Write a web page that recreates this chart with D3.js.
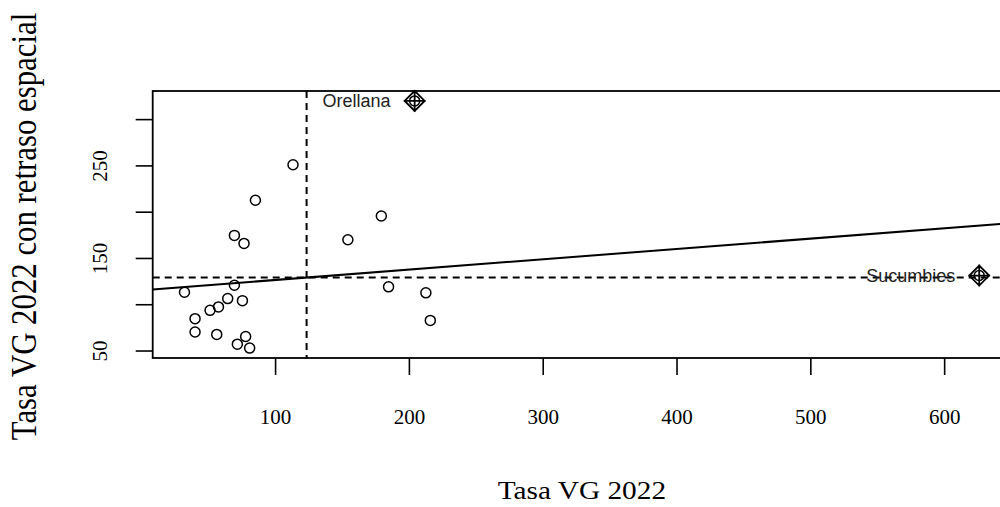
<!DOCTYPE html>
<html>
<head>
<meta charset="utf-8">
<script src="https://cdn.jsdelivr.net/npm/d3@7"></script>
<style>
    body { margin: 0; background: #fff; }
    svg { display: block; }
</style>
</head>
<body>
<div id="chart-div"></div>
<script>
// values
const tasaVG = [113.4, 85.3, 69.6, 76.8, 154.4, 179.4, 32.3, 69.6, 64.6, 75.6, 57.7, 51.4,
                40.2, 40.2, 56.4, 78.0, 71.8, 81.0, 184.8, 212.7, 216.0, 204.3, 626.2];
const retraso = [250.7, 212.4, 174.4, 165.7, 169.7, 195.3, 112.9, 120.5, 106.1, 103.9, 97.1, 93.4,
                 84.4, 70.0, 67.4, 65.2, 56.9, 52.6, 118.8, 112.3, 82.5, 319.7, 131.0];
const pointLabels = ['', '', '', '', '', '', '', '', '', '', '', '',
                     '', '', '', '', '', '', '', '', '', 'Orellana', 'Sucumbies'];

const xTicks = [100, 200, 300, 400, 500, 600];
const yTicks = [50, 100, 150, 200, 250, 300];
const yTickLabels = ['50', '', '150', '', '250', ''];

const xTitle = 'Tasa VG 2022';
const yTitle = 'Tasa VG 2022 con retraso espacial';

window.Plot = window.Plot || {};

Plot.init = function() {
    Plot.setup.initConsts();
    Plot.setup.initScales();
    Plot.setup.initSvg();

    Plot.core.drawAxes();
    Plot.core.drawRefLines();
    Plot.core.drawPoints();
    Plot.core.drawTitles();
};

Plot.setup = {
    initConsts: function() {
        Plot.width = 1000;
        Plot.height = 507;

        // plot box, right edge falls just outside the window
        Plot.left = 152.7;
        Plot.right = 1011;
        Plot.top = 91;
        Plot.bottom = 358;

        Plot.pad = 0.04; // R style axis padding
        Plot.tickLen = 17;
        Plot.pointR = 5;
    },

    initScales: function() {
        let xe = d3.extent(tasaVG), ye = d3.extent(retraso);
        let dx = (xe[1] - xe[0]) * Plot.pad, dy = (ye[1] - ye[0]) * Plot.pad;

        Plot.x = d3.scaleLinear()
                   .domain([xe[0] - dx, xe[1] + dx])
                   .range([Plot.left, Plot.right]);
        Plot.y = d3.scaleLinear()
                   .domain([ye[0] - dy, ye[1] + dy])
                   .range([Plot.bottom, Plot.top]);
    },

    initSvg: function() {
        Plot.svg = d3.select('#chart-div')
                     .append('svg')
                      .attr('width', Plot.width)
                      .attr('height', Plot.height);

        Plot.svg.append('clipPath').attr('id', 'box-clip')
                .append('rect')
                 .attr('x', Plot.left).attr('y', Plot.top)
                 .attr('width', Plot.right - Plot.left)
                 .attr('height', Plot.bottom - Plot.top);
    }
};

Plot.core = {
    drawAxes: function() {
        let xAxis = Plot.svg.append('g')
            .attr('transform', 'translate(0,' + Plot.bottom + ')')
            .call(d3.axisBottom(Plot.x).tickValues(xTicks).tickSize(Plot.tickLen).tickSizeOuter(0));
        xAxis.select('.domain').remove();
        xAxis.selectAll('line').attr('stroke', '#000').attr('stroke-width', 1.6);
        xAxis.selectAll('text')
             .attr('y', 66).attr('dy', 0)
             .attr('fill', '#000')
             .style('font-family', '"Liberation Serif", "Times New Roman", serif')
             .style('font-size', '21px');

        let yAxis = Plot.svg.append('g')
            .attr('transform', 'translate(' + Plot.left + ',0)')
            .call(d3.axisLeft(Plot.y).tickValues(yTicks).tickSize(Plot.tickLen).tickSizeOuter(0)
                    .tickFormat((d, i) => yTickLabels[i]));
        yAxis.select('.domain').remove();
        yAxis.selectAll('line').attr('stroke', '#000').attr('stroke-width', 1.6);
        yAxis.selectAll('text')
             .attr('x', 0).attr('y', 0).attr('dy', 0)
             .attr('transform', 'translate(-46,0) rotate(-90)')
             .attr('text-anchor', 'middle')
             .attr('fill', '#000')
             .style('font-family', '"Liberation Serif", "Times New Roman", serif')
             .style('font-size', '21px');

        // box
        Plot.svg.append('rect')
                .attr('x', Plot.left).attr('y', Plot.top)
                .attr('width', Plot.right - Plot.left)
                .attr('height', Plot.bottom - Plot.top)
                .attr('fill', 'none')
                .attr('stroke', '#000')
                .attr('stroke-width', 1.8);
    },

    drawRefLines: function() {
        let g = Plot.svg.append('g').attr('clip-path', 'url(#box-clip)');
        let mx = d3.mean(tasaVG), my = d3.mean(retraso);

        // least squares fit of lag on value
        let sxy = d3.sum(tasaVG, (v, i) => (v - mx) * (retraso[i] - my));
        let sxx = d3.sum(tasaVG, v => (v - mx) * (v - mx));
        let b = sxy / sxx, a = my - b * mx;
        let xd = Plot.x.domain();

        g.append('line')
         .attr('x1', Plot.x(xd[0])).attr('y1', Plot.y(a + b * xd[0]))
         .attr('x2', Plot.x(xd[1])).attr('y2', Plot.y(a + b * xd[1]))
         .attr('stroke', '#000').attr('stroke-width', 2);

        g.append('line')
         .attr('x1', Plot.x(mx)).attr('x2', Plot.x(mx))
         .attr('y1', Plot.top).attr('y2', Plot.bottom)
         .attr('stroke', '#000').attr('stroke-width', 2)
         .attr('stroke-dasharray', '7,5');

        g.append('line')
         .attr('x1', Plot.left).attr('x2', Plot.right)
         .attr('y1', Plot.y(my)).attr('y2', Plot.y(my))
         .attr('stroke', '#000').attr('stroke-width', 2)
         .attr('stroke-dasharray', '7,5');
    },

    drawPoints: function() {
        let idx = d3.range(tasaVG.length);

        Plot.svg.append('g').selectAll('circle')
            .data(idx).join('circle')
             .attr('cx', i => Plot.x(tasaVG[i]))
             .attr('cy', i => Plot.y(retraso[i]))
             .attr('r', Plot.pointR)
             .attr('fill', 'none')
             .attr('stroke', '#000')
             .attr('stroke-width', 1.5);

        // influential points: diamond with cross, and a label to the left
        let inf = idx.filter(i => pointLabels[i] !== '');
        let s = 10;
        let marks = Plot.svg.append('g').selectAll('g')
            .data(inf).join('g')
             .attr('transform', i => 'translate(' + Plot.x(tasaVG[i]) + ',' + Plot.y(retraso[i]) + ')');

        marks.append('path')
             .attr('d', 'M' + (-s) + ',0L0,' + (-s) + 'L' + s + ',0L0,' + s + 'Z'
                      + 'M' + (-s - 1) + ',0H' + (s + 1) + 'M0,' + (-s - 1) + 'V' + (s + 1))
             .attr('fill', 'none')
             .attr('stroke', '#000')
             .attr('stroke-width', 1.8);

        Plot.svg.append('g').selectAll('text')
            .data(inf).join('text')
             .attr('x', i => Plot.x(tasaVG[i]) - 24)
             .attr('y', i => Plot.y(retraso[i]))
             .attr('dy', '0.35em')
             .attr('text-anchor', 'end')
             .attr('fill', '#222')
             .style('font-family', '"Liberation Sans", Arial, sans-serif')
             .style('font-size', '18px')
             .text(i => pointLabels[i]);
    },

    drawTitles: function() {
        let serif = '"Liberation Serif", "Times New Roman", serif';

        Plot.svg.append('text')
                .attr('transform', 'translate(' + ((Plot.left + Plot.right) / 2) + ',499) scale(1.15,1)')
                .attr('text-anchor', 'middle')
                .style('font-family', serif)
                .style('font-size', '25.5px')
                .text(xTitle);

        Plot.svg.append('text')
                .attr('transform', 'translate(36,' + ((Plot.top + Plot.bottom) / 2 + 2) + ') scale(1.15,1) rotate(-90)')
                .attr('text-anchor', 'middle')
                .style('font-family', serif)
                .style('font-size', '30.8px')
                .text(yTitle);
    }
};

document.addEventListener('DOMContentLoaded', Plot.init);
</script>
</body>
</html>
